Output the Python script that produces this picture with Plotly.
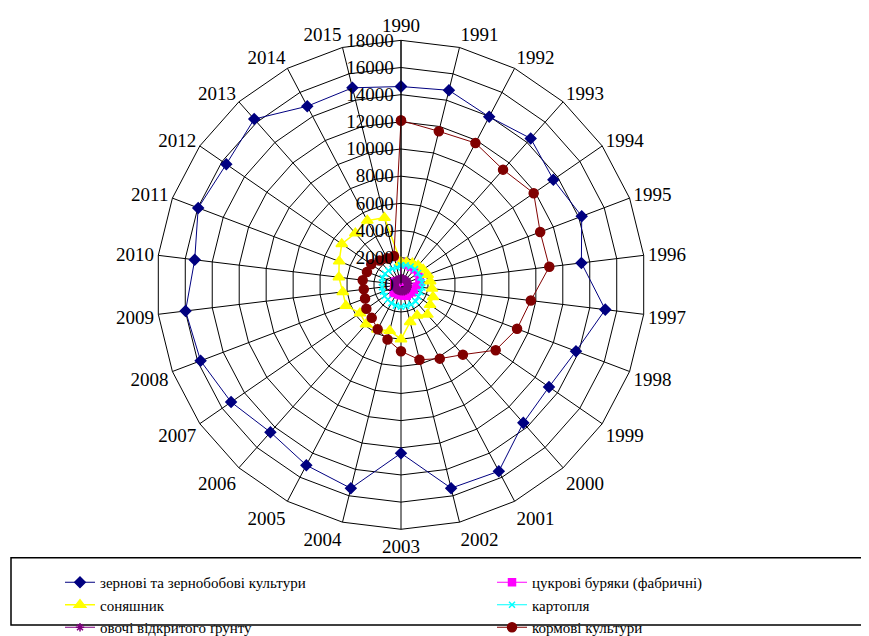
import plotly.graph_objects as go

years = [str(y) for y in range(1990, 2016)]

grain = [14600, 14750, 13970, 14400, 13630, 14230, 13380, 15150, 13780, 13240,
         13580, 15500, 15420, 12400, 15430, 15000, 14500, 15200, 15780, 15980,
         15300, 15970, 15630, 16300, 14850, 14940]
sugar_beet = [1607, 1563, 1518, 1521, 1531, 1475, 1375, 1158, 1020, 977,
              856, 900, 806, 776, 732, 652, 816, 610, 381, 323,
              501, 532, 448, 280, 331, 237]
sunflower = [1640, 1700, 1800, 1900, 1980, 2100, 2160, 2300, 2520, 2600,
             2930, 2550, 2820, 4000, 3490, 3720, 3880, 3670, 4340, 4320,
             4610, 4870, 5300, 5070, 5340, 5090]
potato = [1429, 1480, 1530, 1546, 1540, 1532, 1550, 1584, 1544, 1546,
          1630, 1630, 1600, 1610, 1576, 1523, 1469, 1457, 1412, 1410,
          1412, 1446, 1438, 1394, 1342, 1314]
vegetables = [470, 480, 460, 490, 500, 520, 510, 500, 520, 530,
              545, 530, 500, 480, 480, 470, 460, 460, 460, 460,
              460, 460, 470, 460, 450, 440]
forage = [12100, 11640, 11790, 11330, 11870, 10960, 11000, 9630, 9140, 8470,
          6870, 6140, 5680, 4890, 4150, 3700, 3250, 3100, 2830, 2760,
          2840, 2680, 2660, 2390, 2200, 2180]

series = [
    ("зернові та зернобобові культури", grain, "#000080", "diamond", 8, 1, "legend"),
    ("цукрові буряки (фабричні)", sugar_beet, "#FF00FF", "square", 7, 1, "legend2"),
    ("соняшник", sunflower, "#FFFF00", "triangle-up", 10, 1.5, "legend"),
    ("картопля", potato, "#00FFFF", "x-thin-open", 6, 1, "legend2"),
    ("овочі відкритого ґрунту", vegetables, "#800080", "asterisk-open", 7, 1, "legend"),
    ("кормові культури", forage, "#800000", "circle", 9, 1, "legend2"),
]

fig = go.Figure()
for name, vals, color, sym, size, lw, lg in series:
    fig.add_trace(go.Scatterpolar(
        r=vals + vals[:1],
        theta=years + years[:1],
        mode="lines+markers",
        name=name,
        legend=lg,
        line=dict(color=color, width=lw),
        marker=dict(symbol=sym, size=size, color=color,
                    line=dict(color=color, width=1.5)),
    ))

W, H = 869, 636
cx, cy, R = 393, 291, 257
legfont = dict(family="Liberation Serif", size=15, color="black")
fig.update_layout(
    width=W, height=H,
    margin=dict(l=0, r=0, t=0, b=0),
    paper_bgcolor="white",
    font=dict(family="Liberation Serif", size=19, color="black"),
    polar=dict(
        domain=dict(x=[(cx - R) / W, (cx + R) / W],
                    y=[(H - cy - R) / H, (H - cy + R) / H]),
        bgcolor="white",
        gridshape="linear",
        angularaxis=dict(
            type="category",
            categoryarray=years,
            direction="clockwise",
            rotation=90,
            showline=True, linecolor="black", linewidth=1,
            showgrid=True, gridcolor="black", gridwidth=1,
            ticks="",
            tickfont=dict(family="Liberation Serif", size=19, color="black"),
        ),
        radialaxis=dict(
            range=[0, 18000],
            dtick=2000,
            tickformat="d",
            angle=90,
            tickangle=90,
            side="counterclockwise",
            showline=True, linecolor="black", linewidth=1,
            showgrid=True, gridcolor="black", gridwidth=1,
            ticks="",
            tickfont=dict(family="Liberation Serif", size=19, color="black"),
        ),
    ),
    legend=dict(
        orientation="v",
        x=52 / W, xanchor="left",
        y=1 - 587 / H, yanchor="top",
        font=legfont,
        bgcolor="rgba(0,0,0,0)",
        tracegroupgap=0,
    ),
    legend2=dict(
        orientation="v",
        x=484 / W, xanchor="left",
        y=1 - 587 / H, yanchor="top",
        font=legfont,
        bgcolor="rgba(0,0,0,0)",
        tracegroupgap=0,
    ),
    shapes=[dict(type="rect", xref="paper", yref="paper",
                 x0=3 / W, x1=866 / W, y0=-0.02, y1=1 - 578 / H,
                 line=dict(color="black", width=1.5), fillcolor="rgba(0,0,0,0)")],
)

fig.write_html("out.html")
